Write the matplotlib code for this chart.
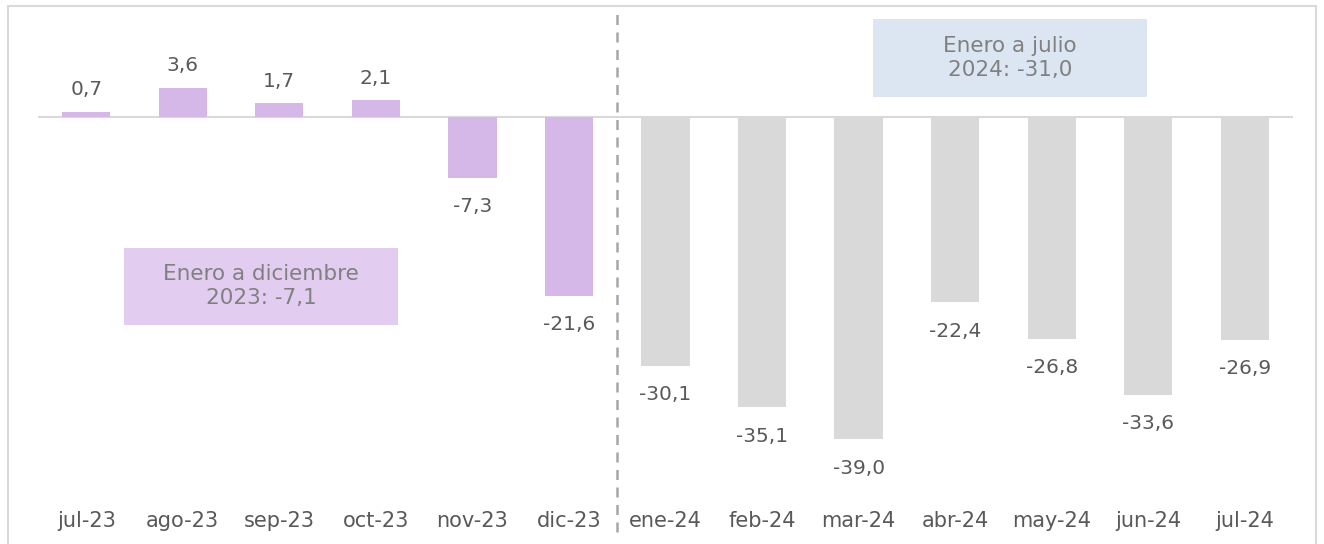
import matplotlib.pyplot as plt
from matplotlib.patches import Rectangle

meses = ['jul-23', 'ago-23', 'sep-23', 'oct-23', 'nov-23', 'dic-23', 'ene-24',
         'feb-24', 'mar-24', 'abr-24', 'may-24', 'jun-24', 'jul-24']
valores = [0.7, 3.6, 1.7, 2.1, -7.3, -21.6, -30.1, -35.1, -39.0, -22.4, -26.8, -33.6, -26.9]
n_2023 = 6
nota_2023 = 'Enero a diciembre\n2023: -7,1'
nota_2024 = 'Enero a julio\n2024: -31,0'

morado = '#d5b8e8'
morado_caja = '#e2ccf0'
gris = '#d9d9d9'
azul_caja = '#dce6f2'
txt = '#595959'

plt.rcParams['font.family'] = ['DejaVu Sans']

W, H = 1324, 544
fig = plt.figure(figsize=(W / 100, H / 100), dpi=100)

def fx(px):
    return px / W

def fy(py):
    return 1 - py / H

# borde del recuadro
fig.patches.append(Rectangle((fx(8), fy(560)), fx(1316) - fx(8), fy(6) - fy(560),
                             transform=fig.transFigure, fill=False,
                             edgecolor='#d9d9d9', linewidth=1.5, zorder=0))

ax = fig.add_axes([fx(38), fy(489), fx(1293) - fx(38), fy(10) - fy(489)])
x = list(range(len(meses)))
colores = [morado if i < n_2023 else gris for i in x]
ax.bar(x, valores, width=0.5, color=colores, zorder=2)
ax.axhline(0, color='#d9d9d9', linewidth=1.5, zorder=1)
ax.set_xlim(-0.5, len(meses) - 0.5)
ax.set_ylim(-45, 13)

for i, v in zip(x, valores):
    etiqueta = f'{v:.1f}'.replace('.', ',')
    if v >= 0:
        ax.annotate(etiqueta, (i, v), xytext=(0, 9), textcoords='offset points',
                    ha='center', va='bottom', fontsize=14.5, color=txt)
    else:
        ax.annotate(etiqueta, (i, v), xytext=(0, -14), textcoords='offset points',
                    ha='center', va='top', fontsize=14.5, color=txt)

ax.set_xticks(x)
ax.set_xticklabels(meses, fontsize=15, color=txt)
ax.tick_params(axis='x', length=0, pad=16)
ax.set_yticks([])
for s in ax.spines.values():
    s.set_visible(False)

# linea divisoria
ax.axvline(n_2023 - 0.5, ymin=-0.09, ymax=1.0, color='#a6a6a6', linestyle=(0, (4, 3)),
           linewidth=1.8, clip_on=False, zorder=3)

# cajas de resumen
fig.patches.append(Rectangle((fx(124), fy(325)), fx(398) - fx(124), fy(248) - fy(325),
                             transform=fig.transFigure, facecolor=morado_caja,
                             edgecolor='none', zorder=1))
fig.text(fx(261), fy(286), nota_2023, ha='center', va='center', fontsize=15.5,
         color='#808080', linespacing=1.3)
fig.patches.append(Rectangle((fx(873), fy(97)), fx(1147) - fx(873), fy(19) - fy(97),
                             transform=fig.transFigure, facecolor=azul_caja,
                             edgecolor='none', zorder=1))
fig.text(fx(1010), fy(58), nota_2024, ha='center', va='center', fontsize=15.5,
         color='#808080', linespacing=1.3)

fig.savefig('out.png', dpi=100)
